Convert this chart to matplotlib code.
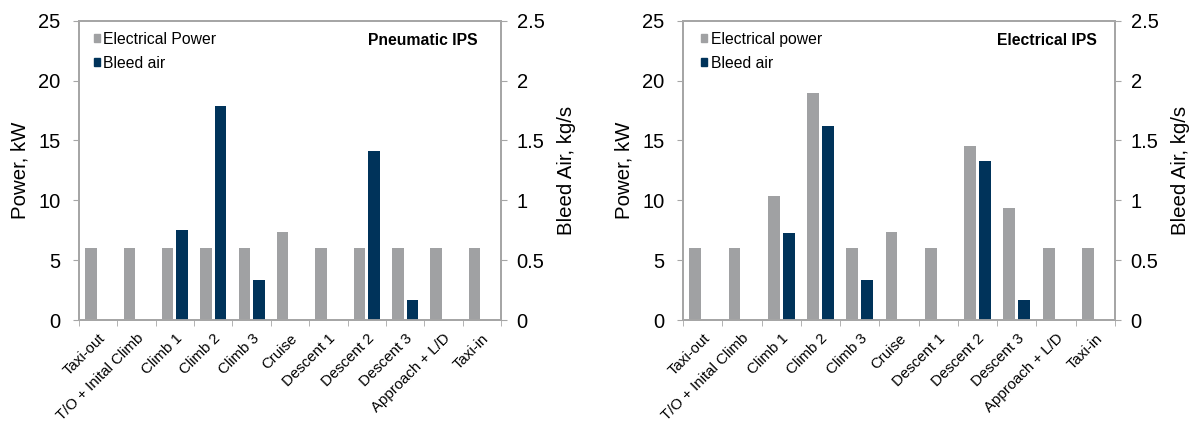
import numpy as np
import matplotlib
matplotlib.use("Agg")
import matplotlib.pyplot as plt
from matplotlib.patches import Patch

plt.rcParams['font.family'] = ['Liberation Sans', 'DejaVu Sans']

phases = ["Taxi-out", "T/O + Inital Climb", "Climb 1", "Climb 2", "Climb 3",
          "Cruise", "Descent 1", "Descent 2", "Descent 3", "Approach + L/D", "Taxi-in"]

# pneumatic ice protection: electrical load (kW) and bleed air (kg/s)
pneu_elec = [6, 6, 6, 6, 6, 7.35, 6, 6, 6, 6, 6]
pneu_bleed = [0, 0, 0.75, 1.79, 0.33, 0, 0, 1.41, 0.17, 0, 0]

# electrical ice protection
elec_elec = [6, 6, 10.35, 19.0, 6, 7.35, 6, 14.55, 9.35, 6, 6]
elec_bleed = [0, 0, 0.73, 1.62, 0.33, 0, 0, 1.33, 0.17, 0, 0]

GREY = "#a0a1a3"
NAVY = "#00335a"
SPINE = "#a6a6a6"
W, H = 1197, 426


def panel(rect, elec, bleed, title, elec_label, leg_x, title_x):
    ax = fig.add_axes(rect)
    ax2 = ax.twinx()
    x = np.arange(len(phases))
    w = 0.3
    ax.bar(x - 0.19, elec, w, color=GREY, zorder=2)
    ax2.bar(x + 0.19, bleed, w, color=NAVY, zorder=2)

    ax.set_xlim(-0.5, len(phases) - 0.5)
    ax.set_ylim(0, 25)
    ax2.set_ylim(0, 2.5)
    ax.set_yticks(np.arange(0, 26, 5))
    ax2.set_yticks([0, 0.5, 1, 1.5, 2, 2.5])
    ax2.set_yticklabels(["0", "0.5", "1", "1.5", "2", "2.5"])

    ax.set_xticks(x)
    ax.set_xticklabels(phases, rotation=45, ha="right", rotation_mode="anchor",
                       fontsize=10.8)
    ax.set_xticks(np.arange(-0.5, len(phases), 1), minor=True)
    ax.tick_params(axis="x", which="major", length=0, pad=8)
    ax.tick_params(axis="x", which="minor", length=4.3, color=SPINE)
    ax.tick_params(axis="y", length=4.3, color=SPINE, labelsize=14.5, pad=9)
    ax2.tick_params(axis="y", length=4.3, color=SPINE, labelsize=14.5, pad=7)

    for a in (ax, ax2):
        for s in a.spines.values():
            s.set_color(SPINE)
            s.set_linewidth(1.3)

    ax.set_ylabel("Power, kW", fontsize=14.7, labelpad=6)
    ax2.set_ylabel("Bleed Air, kg/s", fontsize=14.7, labelpad=9)

    handles = [Patch(color=GREY, label=elec_label), Patch(color=NAVY, label="Bleed air")]
    ax.legend(handles=handles, loc="upper left", bbox_to_anchor=(leg_x, 0.962),
              frameon=False, fontsize=11.3, handlelength=0.4, handleheight=0.4,
              handletextpad=0.2, labelspacing=0.56, borderaxespad=0, borderpad=0)
    ax.text(title_x, 0.933, title, transform=ax.transAxes, ha="right", va="center",
            fontsize=11.3, fontweight="bold")
    return ax, ax2


fig = plt.figure(figsize=(W / 100, H / 100), dpi=100)
panel([79 / W, 106 / H, 422 / W, 299.3 / H], pneu_elec, pneu_bleed,
      "Pneumatic IPS", "Electrical Power", 0.0355, 0.945)
panel([683 / W, 106 / H, 432 / W, 299.3 / H], elec_elec, elec_bleed,
      "Electrical IPS", "Electrical power", 0.042, 0.958)

fig.savefig("out.png", dpi=100)
